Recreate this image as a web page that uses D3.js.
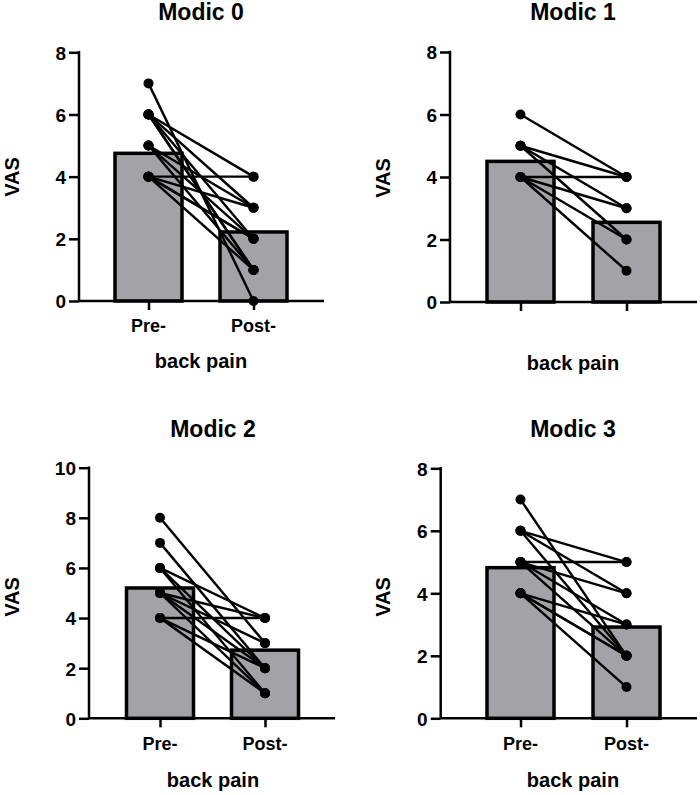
<!DOCTYPE html>
<html>
<head>
<meta charset="utf-8">
<script src="https://cdn.jsdelivr.net/npm/d3@7"></script>
<style>
  body { margin: 0; background: #fff; }
  svg text { font-family: "Liberation Sans", Arial, sans-serif; font-weight: bold; fill: #000; }
</style>
</head>
<body>
<div id="chart"></div>
<script>
// values
const titles = ["Modic 0", "Modic 1", "Modic 2", "Modic 3"];
const groups = ["Pre-", "Post-"];
const yMaxes = [8, 8, 10, 8];
const yTicks0 = [0, 2, 4, 6, 8];
const yTicks2 = [0, 2, 4, 6, 8, 10];
const meanPre = [4.75, 4.5, 5.2, 4.82];
const meanPost = [2.22, 2.55, 2.72, 2.92];

// paired VAS scores [pre, post]
const pairs0 = [[7, 0], [6, 4], [6, 3], [6, 2], [6, 1], [6, 1], [5, 3], [5, 2], [5, 1], [4, 4], [4, 3], [4, 2], [4, 2], [4, 1]];
const pairs1 = [[6, 4], [5, 4], [5, 3], [5, 2], [4, 4], [4, 3], [4, 2], [4, 1]];
const pairs2 = [[8, 3], [7, 2], [6, 4], [6, 2], [6, 1], [5, 4], [5, 3], [5, 2], [5, 1], [4, 4], [4, 2], [4, 1]];
const pairs3 = [[7, 2], [6, 5], [6, 4], [6, 2], [5, 5], [5, 4], [5, 3], [5, 2], [4, 3], [4, 2], [4, 1], [4, 2]];

const allPairs = [pairs0, pairs1, pairs2, pairs3];
const allTicks = [yTicks0, yTicks0, yTicks2, yTicks0];
const showGroupLabels = [true, false, true, true];

// panel placement on the page
const layout = [
    { left: 79, right: 324, top: 52.3, bottom: 301, pre: 148.5, post: 253.5, cx: 201, titleY: 20, catY: 332, xTitleY: 368, vasX: 19, vasY: 177 },
    { left: 450, right: 697, top: 52, bottom: 302, pre: 520.5, post: 626.5, cx: 573, titleY: 20, catY: 332, xTitleY: 370, vasX: 390, vasY: 178 },
    { left: 89, right: 335, top: 467.7, bottom: 718.3, pre: 160, post: 265, cx: 213, titleY: 437, catY: 750, xTitleY: 787, vasX: 19, vasY: 597 },
    { left: 440.7, right: 697, top: 468.3, bottom: 718.3, pre: 520.5, post: 626.5, cx: 573, titleY: 437, catY: 750, xTitleY: 787, vasX: 390, vasY: 597 }
];

const barWidth = 67;
const barFill = "#a3a3a7";

const svg = d3.select("#chart")
    .append("svg")
    .attr("width", 700)
    .attr("height", 795);

titles.forEach((title, i) => {
    const L = layout[i];
    const g = svg.append("g");

    const x = d3.scalePoint()
        .domain(groups)
        .range([L.pre, L.post]);

    const y = d3.scaleLinear()
        .domain([0, yMaxes[i]])
        .range([L.bottom, L.top]);

    // bars (means)
    const means = [meanPre[i], meanPost[i]];
    g.selectAll("rect.bar")
        .data(groups)
        .enter()
        .append("rect")
        .attr("class", "bar")
        .attr("x", d => x(d) - barWidth / 2)
        .attr("y", (d, k) => y(means[k]))
        .attr("width", barWidth)
        .attr("height", (d, k) => y(0) - y(means[k]))
        .attr("fill", barFill)
        .attr("stroke", "#000")
        .attr("stroke-width", 3.5);

    // axes
    const yAxis = g.append("g")
        .attr("transform", `translate(${L.left},0)`)
        .call(d3.axisLeft(y).tickValues(allTicks[i]).tickSize(10).tickPadding(3));

    const xAxis = g.append("g")
        .attr("transform", `translate(0,${L.bottom})`)
        .call(d3.axisBottom(x).tickSize(9).tickFormat(""));

    [yAxis, xAxis].forEach(ax => {
        ax.attr("font-size", null).attr("font-family", null);
        ax.select(".domain").remove();
        ax.selectAll(".tick line").attr("stroke", "#000").attr("stroke-width", 2.5);
    });
    yAxis.selectAll("text")
        .attr("font-size", 19)
        .style("font-size", "19px")
        .attr("dy", "0.36em");

    g.append("line")
        .attr("x1", L.left).attr("x2", L.left)
        .attr("y1", y(yMaxes[i]) - 1.25).attr("y2", y(0))
        .attr("stroke", "#000").attr("stroke-width", 2.5);
    g.append("line")
        .attr("x1", L.left).attr("x2", L.right)
        .attr("y1", y(0)).attr("y2", y(0))
        .attr("stroke", "#000").attr("stroke-width", 2.5);

    // paired lines
    g.selectAll("line.pair")
        .data(allPairs[i])
        .enter()
        .append("line")
        .attr("class", "pair")
        .attr("x1", x("Pre-"))
        .attr("y1", d => y(d[0]))
        .attr("x2", x("Post-"))
        .attr("y2", d => y(d[1]))
        .attr("stroke", "#000")
        .attr("stroke-width", 2.4);

    const points = allPairs[i].flatMap(d => [["Pre-", d[0]], ["Post-", d[1]]]);
    g.selectAll("circle")
        .data(points)
        .enter()
        .append("circle")
        .attr("cx", d => x(d[0]))
        .attr("cy", d => y(d[1]))
        .attr("r", 5)
        .attr("fill", "#000");

    // texts
    g.append("text")
        .attr("x", L.cx)
        .attr("y", L.titleY)
        .attr("text-anchor", "middle")
        .style("font-size", "23px")
        .text(title);

    if (showGroupLabels[i]) {
        g.selectAll("text.cat")
            .data(groups)
            .enter()
            .append("text")
            .attr("class", "cat")
            .attr("x", d => x(d))
            .attr("y", L.catY)
            .attr("text-anchor", "middle")
            .style("font-size", "18px")
            .text(d => d);
    }

    g.append("text")
        .attr("x", L.cx)
        .attr("y", L.xTitleY)
        .attr("text-anchor", "middle")
        .style("font-size", "20px")
        .text("back pain");

    g.append("text")
        .attr("transform", `translate(${L.vasX},${L.vasY}) rotate(-90)`)
        .attr("text-anchor", "middle")
        .style("font-size", "20px")
        .text("VAS");
});
</script>
</body>
</html>
